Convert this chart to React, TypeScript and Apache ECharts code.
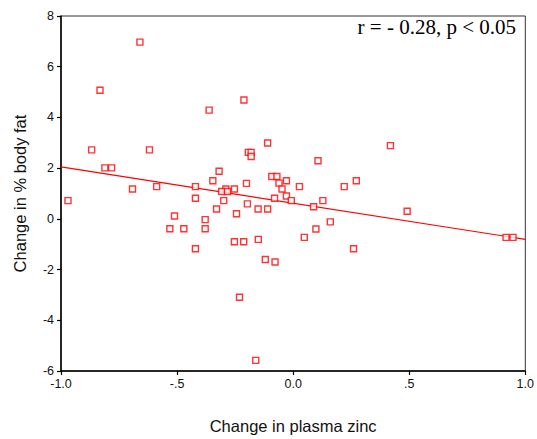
import React, { useEffect, useRef } from "react";
import * as echarts from "echarts";

const zincChange = [
  -0.66, -0.832, -0.362, -0.212, -0.868, -0.619, -0.811, -0.782, -0.692, -0.588,
  -0.421, -0.346, -0.421, -0.97, -0.11, -0.193, -0.181, -0.181, 0.107, 0.419,
  -0.319, -0.092, -0.07, -0.029, -0.201, 0.027, 0.22, 0.272, -0.061, -0.048,
  -0.253, -0.29, -0.308, -0.283, -0.029, -0.08, -0.008, -0.299, -0.33, -0.244,
  -0.197, -0.151, -0.11, 0.088, 0.128, 0.16, 0.098, 0.048, 0.26, -0.253,
  -0.213, -0.15, -0.12, -0.078, -0.511, -0.379, -0.531, -0.471, -0.379, -0.421,
  0.491, 0.917, 0.947, -0.231, -0.161,
];
const fatChange = [
  6.97, 5.07, 4.29, 4.69, 2.72, 2.72, 2.01, 2.01, 1.18, 1.27,
  1.27, 1.5, 0.81, 0.72, 2.99, 2.62, 2.62, 2.46, 2.29, 2.89,
  1.88, 1.67, 1.67, 1.5, 1.4, 1.27, 1.27, 1.5, 1.41, 1.18,
  1.18, 1.18, 1.08, 1.08, 0.9, 0.81, 0.72, 0.72, 0.39, 0.2,
  0.59, 0.39, 0.39, 0.48, 0.72, -0.12, -0.4, -0.73, -1.18, -0.9,
  -0.9, -0.81, -1.6, -1.7, 0.11, -0.03, -0.39, -0.39, -0.39, -1.18,
  0.3, -0.73, -0.73, -3.09, -5.58,
];
const fitX = [-1, 1];
const fitY = [2.05, -0.81];
const xTickLabels: Record<string, string> = {
  "-1": "-1.0",
  "-0.5": "-.5",
  "0": "0.0",
  "0.5": ".5",
  "1": "1.0",
};
const annotation = "r = - 0.28, p < 0.05";

export default function App() {
  const ref = useRef<HTMLDivElement>(null);
  useEffect(() => {
    if (!ref.current) return;
    const chart = echarts.init(ref.current, null, { renderer: "svg" });
    const font = "'Liberation Sans', Arial, sans-serif";
    chart.setOption({
      animation: false,
      backgroundColor: "#ffffff",
      grid: {
        left: 61,
        right: 11,
        top: 16,
        bottom: 66,
        show: true,
        borderColor: "#333",
        borderWidth: 1,
      },
      xAxis: {
        type: "value",
        min: -1,
        max: 1,
        interval: 0.5,
        name: "Change in plasma zinc",
        nameLocation: "middle",
        nameGap: 46,
        nameTextStyle: { fontFamily: font, fontSize: 16.5, color: "#111" },
        axisLine: { show: true, onZero: false, lineStyle: { color: "#000", width: 1.5 } },
        axisTick: { show: true, length: 4, lineStyle: { color: "#000", width: 1.2 } },
        axisLabel: {
          fontFamily: font,
          fontSize: 12.5,
          color: "#111",
          margin: 6,
          formatter: (v: number) => xTickLabels[String(v)] ?? String(v),
        },
        splitLine: { show: false },
      },
      yAxis: {
        type: "value",
        min: -6,
        max: 8,
        interval: 2,
        name: "Change in % body fat",
        nameLocation: "middle",
        nameGap: 33,
        nameTextStyle: { fontFamily: font, fontSize: 16.5, color: "#111" },
        axisLine: { show: true, onZero: false, lineStyle: { color: "#000", width: 1.5 } },
        axisTick: { show: true, length: 4, lineStyle: { color: "#000", width: 1.2 } },
        axisLabel: { fontFamily: font, fontSize: 12.5, color: "#111", margin: 7 },
        splitLine: { show: false },
      },
      graphic: [
        {
          type: "text",
          right: 21,
          top: 16,
          style: {
            text: annotation,
            fontFamily: "'Liberation Serif', 'Times New Roman', serif",
            fontSize: 21,
            fill: "#000",
          },
        },
      ],
      series: [
        {
          type: "line",
          data: fitX.map((x, i) => [x, fitY[i]]),
          showSymbol: false,
          symbol: "none",
          lineStyle: { color: "#ff0000", width: 1.2 },
          z: 1,
        },
        {
          type: "scatter",
          data: zincChange.map((x, i) => [x, fatChange[i]]),
          symbol: "rect",
          symbolSize: 6,
          itemStyle: { color: "#ffffff", borderColor: "#ff0000", borderWidth: 1.4 },
          z: 2,
        },
      ],
    });
    return () => chart.dispose();
  }, []);
  return (
    <div
      ref={ref}
      style={{ position: "absolute", left: 0, top: 0, width: 537, height: 439 }}
    />
  );
}
